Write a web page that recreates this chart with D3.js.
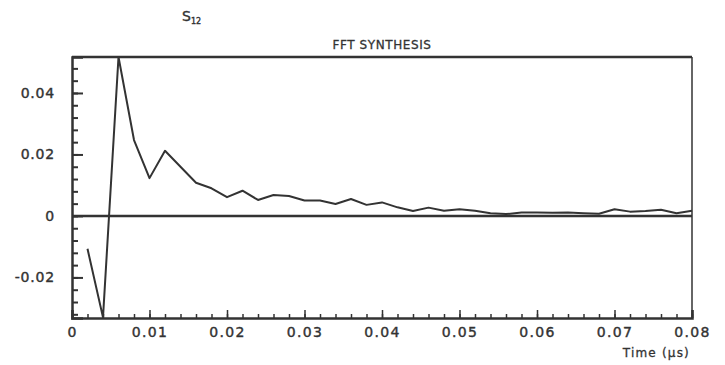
<!DOCTYPE html>
<html>
<head>
<meta charset="utf-8">
<script src="https://cdn.jsdelivr.net/npm/d3@7"></script>
<style>
  body { margin: 0; background: #fff; }
  svg text { font-family: "DejaVu Sans", sans-serif; fill: #333; }
</style>
</head>
<body>
<div id="chart"></div>
<script>
const width = 725, height = 365;
const margin = {top: 57, right: 33, bottom: 47, left: 72};

// time (µs) and S12 values
const times = [0.002, 0.004, 0.006, 0.008, 0.010, 0.012, 0.014, 0.016, 0.018, 0.020,
               0.022, 0.024, 0.026, 0.028, 0.030, 0.032, 0.034, 0.036, 0.038, 0.040,
               0.042, 0.044, 0.046, 0.048, 0.050, 0.052, 0.054, 0.056, 0.058, 0.060,
               0.062, 0.064, 0.066, 0.068, 0.070, 0.072, 0.074, 0.076, 0.078, 0.080];
const s12 = [-0.0107, -0.0330, 0.0517, 0.0247, 0.0123, 0.0212, 0.0160, 0.0108, 0.0090, 0.0061,
             0.0082, 0.0052, 0.0068, 0.0065, 0.0050, 0.0050, 0.0039, 0.0055, 0.0036, 0.0044,
             0.0028, 0.0016, 0.0027, 0.0017, 0.0022, 0.0017, 0.0009, 0.0006, 0.0011, 0.0011,
             0.0010, 0.0011, 0.0009, 0.0007, 0.0022, 0.0014, 0.0016, 0.0020, 0.0009, 0.0017];

const xMajor = [0, 0.01, 0.02, 0.03, 0.04, 0.05, 0.06, 0.07, 0.08];
const xLabels = ["0", "0.01", "0.02", "0.03", "0.04", "0.05", "0.06", "0.07", "0.08"];
const yMajor = [-0.02, 0, 0.02, 0.04];
const yLabels = ["-0.02", "0", "0.02", "0.04"];

const data = times.map((t, i) => ({t: t, v: s12[i]}));

const svg = d3.select("#chart").append("svg")
  .attr("width", width)
  .attr("height", height);

const x = d3.scaleLinear()
  .domain([0, 0.08])
  .range([margin.left, width - margin.right]);
const y = d3.scaleLinear()
  .domain([-0.0332, 0.0517])
  .range([height - margin.bottom, margin.top]);

const ink = "#333";

// minor ticks
const xMinor = d3.range(0, 0.0801, 0.002);
const yMinor = d3.range(-0.032, 0.0517, 0.004);

svg.append("g")
  .attr("transform", `translate(0, ${y.range()[0]})`)
  .call(d3.axisBottom(x).tickValues(xMinor).tickSize(-4).tickFormat(""))
  .call(g => g.select(".domain").remove())
  .selectAll("line").attr("stroke", ink).attr("stroke-width", 1.5);

svg.append("g")
  .attr("transform", `translate(${x.range()[0]}, 0)`)
  .call(d3.axisLeft(y).tickValues(yMinor).tickSize(-6).tickFormat(""))
  .call(g => g.select(".domain").remove())
  .selectAll("line").attr("stroke", ink).attr("stroke-width", 2);

// major ticks + labels
const xAxis = svg.append("g")
  .attr("transform", `translate(0, ${y.range()[0]})`)
  .call(d3.axisBottom(x).tickValues(xMajor).tickSize(-8).tickPadding(9)
    .tickFormat((d, i) => xLabels[i]));
xAxis.select(".domain").attr("stroke", ink).attr("stroke-width", 2.5);
xAxis.selectAll("line").attr("stroke", ink).attr("stroke-width", 1.5);
xAxis.selectAll("text")
  .style("font-size", "14px").style("letter-spacing", "1.3px")
  .attr("stroke", ink).attr("stroke-width", 0.4).attr("fill", ink);

const yAxis = svg.append("g")
  .attr("transform", `translate(${x.range()[0]}, 0)`)
  .call(d3.axisLeft(y).tickValues(yMajor).tickSize(-11).tickPadding(17)
    .tickFormat((d, i) => yLabels[i]));
yAxis.select(".domain").attr("stroke", ink).attr("stroke-width", 2.5);
yAxis.selectAll("line").attr("stroke", ink).attr("stroke-width", 2);
yAxis.selectAll("text")
  .style("font-size", "14px").style("letter-spacing", "0.8px")
  .attr("stroke", ink).attr("stroke-width", 0.4).attr("fill", ink);

// frame: top and right
svg.append("line")
  .attr("x1", x(0)).attr("x2", x(0.08))
  .attr("y1", y.range()[1]).attr("y2", y.range()[1])
  .attr("stroke", ink).attr("stroke-width", 2.5);
svg.append("line")
  .attr("x1", x(0.08)).attr("x2", x(0.08))
  .attr("y1", y.range()[1]).attr("y2", y.range()[0])
  .attr("stroke", ink).attr("stroke-width", 1.5);

// zero line
svg.append("line")
  .attr("x1", x(0)).attr("x2", x(0.08))
  .attr("y1", y(0)).attr("y2", y(0))
  .attr("stroke", ink).attr("stroke-width", 2.5);

// curve
const line = d3.line()
  .x(d => x(d.t))
  .y(d => y(d.v));
svg.append("path")
  .datum(data)
  .attr("d", line)
  .attr("fill", "none")
  .attr("stroke", ink)
  .attr("stroke-width", 2)
  .attr("stroke-linejoin", "round");

// titles
const s = svg.append("text")
  .attr("x", 182).attr("y", 21)
  .attr("stroke", ink).attr("stroke-width", 0.4)
  .style("font-size", "14px");
s.append("tspan").text("S");
s.append("tspan").attr("dy", 3).style("font-size", "8px").text("12");

svg.append("text")
  .attr("x", 382).attr("y", 49)
  .attr("text-anchor", "middle")
  .attr("stroke", ink).attr("stroke-width", 0.3)
  .style("font-size", "12px").style("letter-spacing", "0.6px")
  .text("FFT SYNTHESIS");

svg.append("text")
  .attr("x", 690).attr("y", 357)
  .attr("text-anchor", "end")
  .attr("stroke", ink).attr("stroke-width", 0.3)
  .style("font-size", "12px").style("letter-spacing", "1.2px")
  .text("Time (µs)");
</script>
</body>
</html>
